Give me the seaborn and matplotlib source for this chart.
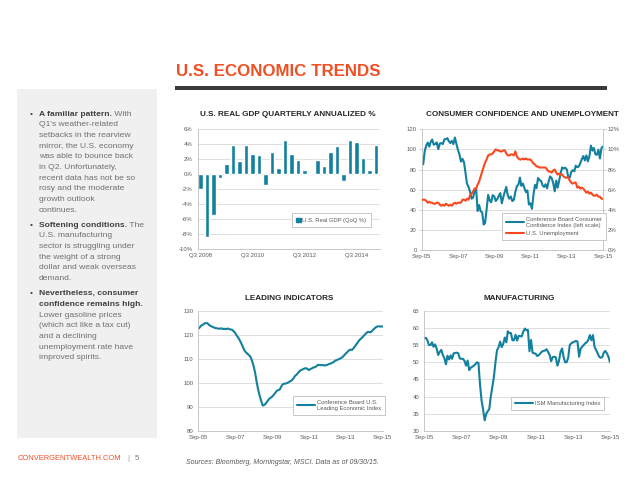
import matplotlib
matplotlib.use('Agg')
import matplotlib.pyplot as plt
from matplotlib.patches import Rectangle
from matplotlib.lines import Line2D
import pandas as pd
import seaborn as sns

# ---- data ----
quarters = ['Q3 2008', 'Q4 2008', 'Q1 2009', 'Q2 2009', 'Q3 2009', 'Q4 2009',
            'Q1 2010', 'Q2 2010', 'Q3 2010', 'Q4 2010', 'Q1 2011', 'Q2 2011',
            'Q3 2011', 'Q4 2011', 'Q1 2012', 'Q2 2012', 'Q3 2012', 'Q4 2012',
            'Q1 2013', 'Q2 2013', 'Q3 2013', 'Q4 2013', 'Q1 2014', 'Q2 2014',
            'Q3 2014', 'Q4 2014', 'Q1 2015', 'Q2 2015']
gdp = [-2.0, -8.4, -5.5, -0.5, 1.3, 3.9, 1.7, 3.9, 2.7, 2.5, -1.5, 2.9,
       0.8, 4.6, 2.7, 1.9, 0.5, 0.1, 1.9, 1.1, 3.0, 3.8, -0.9, 4.6,
       4.3, 2.1, 0.6, 3.9]
gdp_ticks = ['Q3 2008', 'Q3 2010', 'Q3 2012', 'Q3 2014']

# monthly, Sep-05 .. Sep-15
confidence = [87.5, 85.2, 98.3, 103.8,
              106.8, 102.7, 107.5, 109.8, 104.7, 105.4, 107.0, 100.2, 105.9, 106.3, 105.3, 110.0,
              110.2, 111.2, 108.2, 106.3, 108.5, 105.3, 111.9, 105.6, 99.5, 95.2, 87.8, 90.6,
              87.3, 76.4, 65.9, 62.8, 58.1, 51.0, 51.9, 58.5, 61.4, 38.8, 44.7, 38.6,
              37.4, 25.3, 26.9, 40.8, 54.8, 49.3, 47.4, 54.5, 53.4, 48.7, 50.6, 53.6,
              56.5, 46.4, 52.3, 57.7, 62.7, 54.3, 51.0, 53.2, 48.6, 49.9, 57.8, 63.4,
              64.8, 72.0, 63.8, 66.0, 61.7, 57.6, 59.2, 45.2, 46.4, 40.9, 55.2, 64.8,
              61.5, 71.6, 69.5, 68.7, 64.4, 62.7, 65.4, 61.3, 68.4, 73.1, 71.5, 66.7,
              58.4, 69.0, 61.9, 69.0, 76.2, 82.1, 81.0, 81.8, 80.2, 72.4, 72.0, 77.5,
              79.4, 78.3, 83.9, 82.3, 83.0, 86.4, 90.3, 93.4, 89.0, 94.1, 88.1, 93.1,
              103.8, 98.8, 101.4, 95.2, 94.6, 99.8, 91.0, 101.3, 103.0]
unemployment = [5.0, 5.0, 5.0, 4.9,
                4.7, 4.8, 4.7, 4.7, 4.6, 4.6, 4.7, 4.7, 4.5, 4.4, 4.5, 4.4,
                4.6, 4.5, 4.4, 4.5, 4.4, 4.6, 4.7, 4.6, 4.7, 4.7, 4.7, 5.0,
                5.0, 4.9, 5.1, 5.0, 5.4, 5.6, 5.8, 6.1, 6.1, 6.5, 6.8, 7.3,
                7.8, 8.3, 8.7, 9.0, 9.4, 9.5, 9.5, 9.6, 9.8, 10.0, 9.9, 9.9,
                9.8, 9.8, 9.9, 9.9, 9.6, 9.4, 9.4, 9.5, 9.5, 9.4, 9.8, 9.3,
                9.1, 9.0, 9.0, 9.1, 9.0, 9.1, 9.0, 9.0, 9.0, 8.8, 8.6, 8.5,
                8.3, 8.3, 8.2, 8.2, 8.2, 8.2, 8.2, 8.0, 7.8, 7.8, 7.7, 7.9,
                8.0, 7.7, 7.5, 7.6, 7.5, 7.5, 7.3, 7.2, 7.2, 7.2, 6.9, 6.7,
                6.6, 6.7, 6.7, 6.2, 6.3, 6.1, 6.2, 6.1, 5.9, 5.7, 5.8, 5.6,
                5.7, 5.5, 5.4, 5.4, 5.5, 5.3, 5.3, 5.1, 5.1]
leading = [122.6, 123.2, 124.0, 124.3,
           124.8, 125.0, 124.9, 124.2, 123.8, 123.5, 123.2, 122.9, 122.8, 122.7, 122.6, 122.8,
           122.5, 122.6, 122.4, 122.7, 122.5, 122.3, 122.2, 121.6, 120.9, 119.8, 118.9, 117.8,
           116.5, 115.0, 113.6, 112.8, 112.2, 111.6, 110.9, 109.2, 107.0, 104.2, 100.3, 97.1,
           94.5, 92.3, 90.6, 90.9, 91.5, 92.4, 93.3, 93.8, 94.3, 95.0, 95.8, 96.7,
           97.0, 97.3, 98.5, 99.5, 99.7, 99.8, 100.0, 100.4, 100.8, 101.2, 102.0, 103.0,
           103.5, 104.3, 105.0, 105.4, 105.7, 106.0, 106.2, 105.9, 105.4, 105.8, 106.1, 106.5,
           106.6, 107.1, 107.6, 107.5, 107.4, 107.5, 107.3, 107.4, 107.6, 107.9, 108.1, 108.4,
           108.7, 109.3, 109.5, 109.8, 110.1, 110.4, 110.9, 111.6, 112.3, 112.9, 113.6, 113.9,
           113.8, 114.5, 115.3, 116.2, 117.1, 118.0, 118.5, 119.2, 119.9, 120.6, 121.2, 121.3,
           121.1, 121.7, 122.3, 122.9, 123.4, 123.6, 123.6, 123.5, 123.6]
ism = [57.0, 57.1, 56.4, 55.0,
       55.0, 55.8, 54.5, 55.2, 54.0, 52.1, 53.0, 53.6, 52.1, 51.2, 49.4, 51.9,
       50.8, 52.0, 51.0, 52.6, 52.7, 52.8, 52.6, 51.1, 51.0, 51.0, 50.4, 49.0,
       50.5, 47.7, 48.4, 48.7, 49.0, 49.4, 50.0, 49.8, 43.5, 38.9, 36.2, 33.1,
       35.0, 35.8, 36.3, 40.1, 42.8, 45.8, 49.9, 53.5, 54.4, 56.0, 54.4, 55.3,
       57.2, 55.8, 59.0, 58.5, 58.5, 56.4, 56.4, 58.0, 56.3, 57.7, 57.6, 57.5,
       59.0, 59.8, 59.3, 59.4, 53.2, 56.5, 52.8, 52.6, 52.5, 51.8, 52.1, 52.6,
       53.1, 53.3, 53.4, 53.8, 53.0, 52.1, 50.3, 51.5, 51.6, 51.4, 49.0, 50.4,
       53.0, 54.0, 51.6, 50.0, 50.0, 51.3, 55.0, 55.5, 55.8, 56.0, 56.2, 56.0,
       51.6, 54.0, 54.5, 55.0, 55.5, 55.8, 56.5, 57.9, 56.4, 57.9, 54.5, 53.6,
       52.6, 51.6, 51.3, 51.5, 52.8, 53.3, 52.6, 51.6, 50.0]
date_ticks = ['Sep-05', 'Sep-07', 'Sep-09', 'Sep-11', 'Sep-13', 'Sep-15']

months = pd.date_range('2005-09-01', periods=len(confidence), freq='MS')

TEAL = '#13809f'
ORANGE = '#f9481d'
RED_TITLE = '#f04e23'
GRID = '#d9d9d9'
AXC = '#bfbfbf'
TXT = '#595959'

sns.set_theme(style='white')
plt.rcParams['font.family'] = ['Liberation Sans Narrow', 'Liberation Sans', 'DejaVu Sans']

fig = plt.figure(figsize=(6.4, 4.8), dpi=100)

# slide background / decoration, in pixel coordinates
bg = fig.add_axes([0, 0, 1, 1])
bg.set_xlim(0, 640)
bg.set_ylim(480, 0)
bg.axis('off')
bg.add_patch(Rectangle((17, 89), 140, 349, color='#f0f0f0', lw=0))
bg.add_patch(Rectangle((175, 86), 432, 4, color='#3a3a3a', lw=0))
bg.text(176, 71, 'U.S. ECONOMIC TRENDS', color=RED_TITLE, fontsize=12.2,
        fontweight='bold', va='center', ha='left')

# bullet text
bullets = [
    (114.3, [('A familiar pattern.', ' With'), ('', "Q1's weather-related"),
             ('', 'setbacks in the rearview'), ('', 'mirror, the U.S. economy'),
             ('', 'was able to bounce back'), ('', 'in Q2. Unfortunately,'),
             ('', 'recent data has not be so'), ('', 'rosy and the moderate'),
             ('', 'growth outlook'), ('', 'continues.')]),
    (225.3, [('Softening conditions.', ' The'), ('', 'U.S. manufacturing'),
             ('', 'sector is struggling under'), ('', 'the weight of a strong'),
             ('', 'dollar and weak overseas'), ('', 'demand.')]),
    (293.7, [('Nevertheless, consumer', ''), ('confidence remains high.', ''),
             ('', 'Lower gasoline prices'), ('', '(which act like a tax cut)'),
             ('', 'and a declining'), ('', 'unemployment rate have'),
             ('', 'improved spirits.')]),
]
step = 10.67
BODY = 6.1
for y0, lines in bullets:
    bg.text(30, y0, '\u2022', fontsize=BODY, color='#404040', va='center')
    for i, (b, r) in enumerate(lines):
        y = y0 + i * step
        if b:
            t = bg.text(39, y, b, fontsize=BODY, fontweight='bold', color='#404040', va='center')
            if r:
                bg.annotate(r, xy=(1, 0), xycoords=t, va='bottom', fontsize=BODY, color='#707070')
        else:
            bg.text(39, y, r, fontsize=BODY, color='#707070', va='center')

# footer
bg.text(18, 459, 'CONVERGENTWEALTH.COM', color=RED_TITLE, fontsize=5.4, va='center')
bg.text(127, 459, '|', color='#9a9a9a', fontsize=5.6, va='center')
bg.text(135, 459, '5', color='#7a7a7a', fontsize=5.6, va='center')
bg.text(186, 462, 'Sources: Bloomberg, Morningstar, MSCI. Data as of 09/30/15.',
        color=TXT, fontsize=5.0, style='italic', va='center')

# chart titles
for x, y, s in [(288, 114, 'U.S. REAL GDP QUARTERLY ANNUALIZED %'),
                (522, 114, 'CONSUMER CONFIDENCE AND UNEMPLOYMENT'),
                (289, 298, 'LEADING INDICATORS'),
                (519, 298, 'MANUFACTURING')]:
    bg.text(x, y, s, ha='center', va='center', fontsize=5.9, fontweight='bold', color='#262626')


def px_axes(left, top, right, bottom):
    return fig.add_axes([left / 640, 1 - bottom / 480, (right - left) / 640, (bottom - top) / 480])


def style(ax):
    sns.despine(ax=ax)
    ax.set_facecolor('none')
    ax.grid(axis='y', color=GRID, lw=0.6)
    ax.grid(axis='x', visible=False)
    ax.set_axisbelow(True)
    for s in ['left', 'bottom']:
        ax.spines[s].set_color(AXC)
        ax.spines[s].set_linewidth(0.6)
    ax.tick_params(axis='both', labelsize=4.3, labelcolor=TXT, color=AXC,
                   length=2, width=0.5, pad=1.5)
    ax.set_xlabel('')
    ax.set_ylabel('')


def legend(ax, handles, labels, anchor, loc='upper left', **kw):
    opts = dict(fontsize=4.2, frameon=True, fancybox=False, framealpha=1,
                edgecolor=AXC, borderpad=0.7, handlelength=3.1, handletextpad=0.3,
                labelspacing=0.6, labelcolor=TXT, borderaxespad=0)
    opts.update(kw)
    lg = ax.legend(handles, labels, loc=loc, bbox_to_anchor=anchor, **opts)
    lg.get_frame().set_linewidth(0.6)
    return lg


def date_axis(ax):
    ax.set_xlim(months[0], months[-1])
    ax.set_xticks(pd.to_datetime(['2005-09-01', '2007-09-01', '2009-09-01',
                                  '2011-09-01', '2013-09-01', '2015-09-01']))
    ax.set_xticklabels(date_ticks)
    ax.tick_params(axis='x', length=0, pad=3)


# GDP bars
ax1 = px_axes(197.7, 129, 380, 249)
sns.barplot(x=quarters, y=gdp, color=TEAL, width=0.7, saturation=1, ax=ax1)
style(ax1)
ax1.set_ylim(-10, 6)
ax1.set_yticks(range(-10, 7, 2))
ax1.set_yticklabels([f'{v}%' for v in range(-10, 7, 2)])
ax1.set_xlim(-0.45, 27.6)
ax1.set_xticks([quarters.index(q) for q in gdp_ticks])
ax1.set_xticklabels(gdp_ticks)
ax1.tick_params(axis='x', length=0, pad=3)
legend(ax1, [Rectangle((0, 0), 1, 1, color=TEAL)], ['U.S. Real GDP (QoQ %)'], (0.516, 0.30),
       handlelength=0.7, handleheight=0.7, borderpad=0.8)

# consumer confidence + unemployment
ax2 = px_axes(421.7, 129.3, 603, 250)
sns.lineplot(x=months, y=confidence, color=TEAL, lw=1.5, ax=ax2)
style(ax2)
ax2.set_ylim(0, 120)
ax2.set_yticks(range(0, 121, 20))
date_axis(ax2)
ax2b = ax2.twinx()
sns.lineplot(x=months, y=unemployment, color=ORANGE, lw=1.5, ax=ax2b)
ax2b.set_ylim(0, 12)
ax2b.set_yticks(range(0, 13, 2))
ax2b.set_yticklabels([f'{v}%' for v in range(0, 13, 2)])
ax2b.tick_params(axis='y', labelsize=4.3, labelcolor=TXT, color=AXC, length=2, width=0.5, pad=1.5)
ax2b.grid(False)
ax2b.set_ylabel('')
for s in ['top', 'left', 'bottom']:
    ax2b.spines[s].set_visible(False)
ax2b.spines['right'].set_color(AXC)
ax2b.spines['right'].set_linewidth(0.6)
legend(ax2b, [Line2D([], [], color=TEAL, lw=1.5), Line2D([], [], color=ORANGE, lw=1.5)],
       ['Conference Board Consumer\nConfidence Index (left scale)', 'U.S. Unemployment'],
       (0.441, 0.307))

# leading indicators
ax3 = px_axes(198.3, 311, 382.7, 431)
sns.lineplot(x=months, y=leading, color=TEAL, lw=1.5, ax=ax3)
style(ax3)
ax3.set_ylim(80, 130)
ax3.set_yticks(range(80, 131, 10))
date_axis(ax3)
legend(ax3, [Line2D([], [], color=TEAL, lw=1.5)],
       ['Conference Board U.S.\nLeading Economic Index'], (0.514, 0.292))

# manufacturing
ax4 = px_axes(424.3, 310.7, 610, 431)
sns.lineplot(x=months, y=ism, color=TEAL, lw=1.5, ax=ax4)
style(ax4)
ax4.set_ylim(30, 65)
ax4.set_yticks(range(30, 66, 5))
date_axis(ax4)
legend(ax4, [Line2D([], [], color=TEAL, lw=1.5)], ['ISM Manufacturing Index'], (0.465, 0.285))

fig.savefig('out.png', dpi=100)
